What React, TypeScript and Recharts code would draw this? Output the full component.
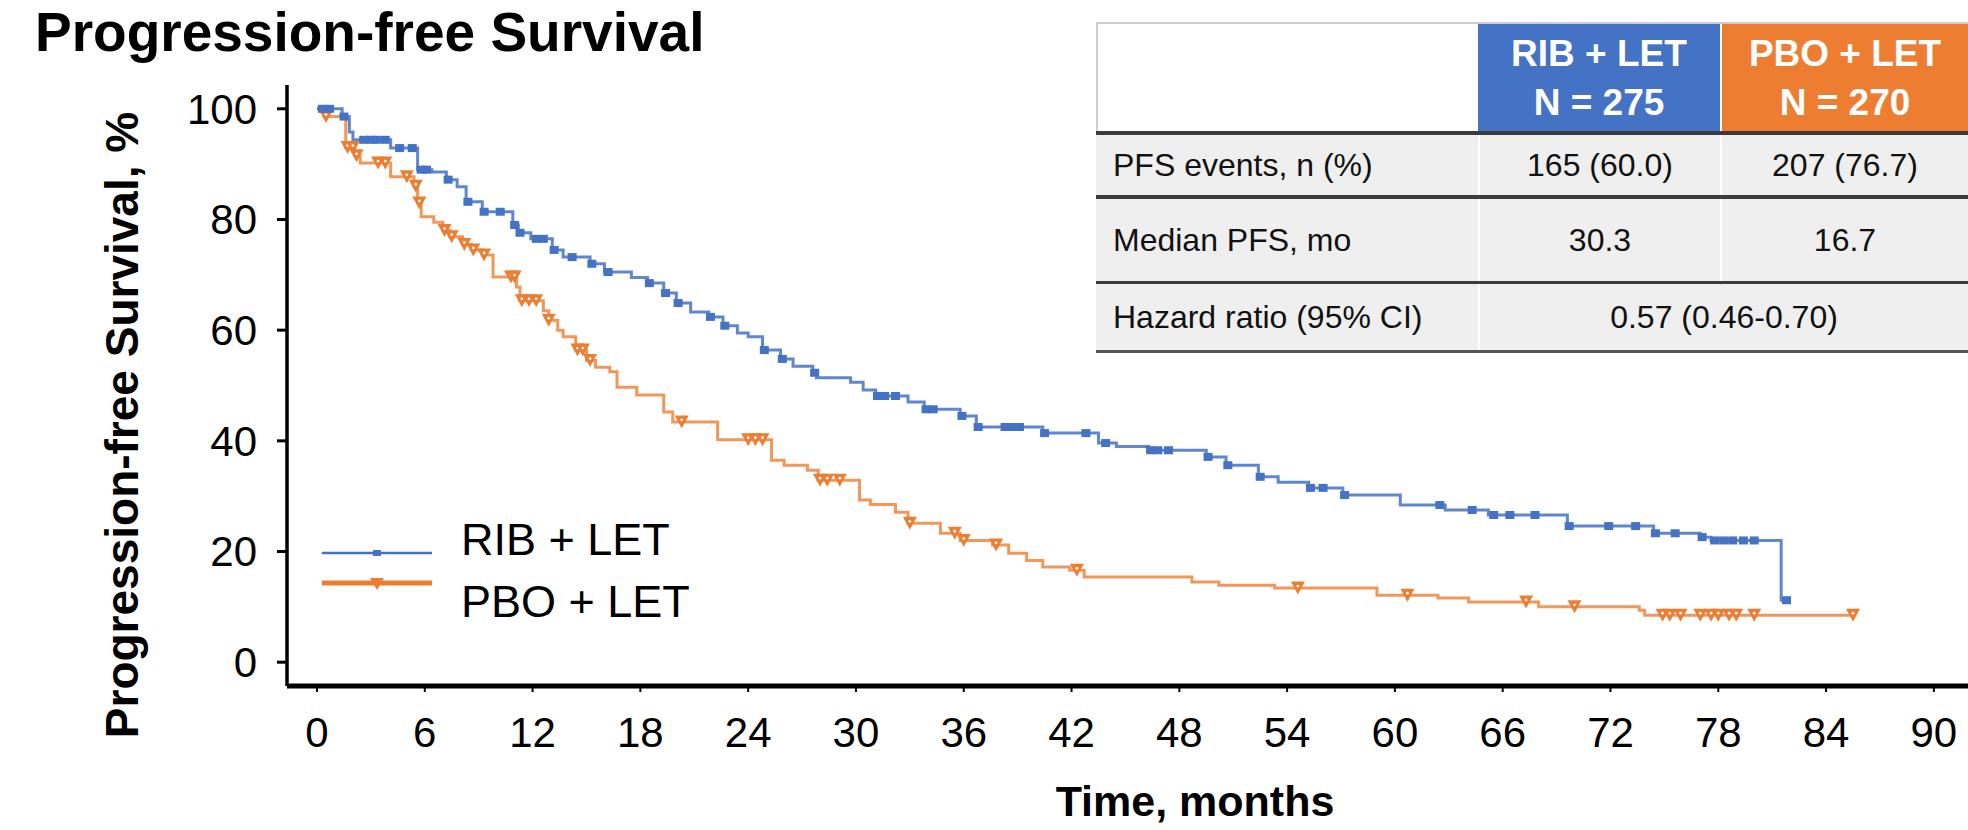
import React from 'react';
import { ComposedChart, Line, Scatter, XAxis, YAxis, Legend } from 'recharts';

const xTicks = [0, 6, 12, 18, 24, 30, 36, 42, 48, 54, 60, 66, 72, 78, 84, 90];
const yTicks = [0, 20, 40, 60, 80, 100];

// RIB + LET: Kaplan-Meier steps (months, % progression-free)
const ribTime = [
  0, 1.4, 1.8, 2.0, 4.1, 5.6, 6.4, 7.2, 7.8, 8.3, 9.2, 10.9, 11.2, 11.9, 13.1, 13.7, 15.2, 16.0, 17.5,
  18.4, 19.3, 20.0, 20.8, 21.8, 22.6, 23.4, 24.0, 24.8, 25.8, 26.5, 27.6, 27.8, 29.7, 30.4, 31.1, 32.9,
  33.8, 35.8, 36.7, 40.4, 43.5, 44.5, 46.3, 49.5, 50.6, 52.4, 53.5, 55.2, 57.1, 60.3, 62.8, 65.2, 69.6,
  74.4, 77.0, 77.6, 81.5, 81.8,
];
const ribSurv = [
  100, 98.6, 95.8, 94.4, 92.9, 89.0, 88.6, 87.2, 85.9, 83.2, 81.4, 79.0, 77.6, 76.5, 74.5, 73.2, 72.0,
  70.5, 69.5, 68.5, 66.7, 64.9, 63.3, 62.4, 60.8, 59.5, 58.8, 56.4, 54.8, 53.5, 52.3, 51.4, 50.6, 49.2,
  48.1, 47.0, 45.7, 44.5, 42.5, 41.4, 39.6, 39.0, 38.3, 37.1, 35.6, 33.5, 32.5, 31.5, 30.2, 28.4, 27.5,
  26.6, 24.6, 23.3, 22.6, 22.0, 11.2, 11.2,
];
const ribCensorTime = [
  0.3, 0.7, 1.5, 2.6, 3.0, 3.3, 3.8, 4.6, 5.3, 5.8, 6.1, 7.3, 8.4, 9.3, 10.2, 11.0, 11.3, 12.2, 12.6,
  13.2, 14.2, 15.3, 16.2, 18.5, 19.4, 20.1, 21.9, 22.7, 24.9, 25.9, 27.7, 31.2, 31.6, 32.2, 33.9, 34.3,
  35.9, 36.8, 38.3, 38.7, 39.1, 40.5, 42.8, 43.9, 46.4, 46.8, 47.4, 49.6, 50.7, 52.5, 55.3, 56.0, 57.2,
  62.5, 64.3, 65.5, 66.4, 67.8, 69.7, 71.9, 73.4, 74.5, 75.6, 77.1, 77.8, 78.3, 78.8, 79.4, 80.0, 81.8,
];
const ribCensorSurv = [
  100, 100, 98.6, 94.4, 94.4, 94.4, 94.4, 92.9, 92.9, 89.0, 89.0, 87.2, 83.2, 81.4, 81.4, 79.0, 77.6,
  76.5, 76.5, 74.5, 73.2, 72.0, 70.5, 68.5, 66.7, 64.9, 62.4, 60.8, 56.4, 54.8, 52.3, 48.1, 48.1, 48.1,
  45.7, 45.7, 44.5, 42.5, 42.5, 42.5, 42.5, 41.4, 41.4, 39.6, 38.3, 38.3, 38.3, 37.1, 35.6, 33.5, 31.5,
  31.5, 30.2, 28.4, 27.5, 26.6, 26.6, 26.6, 24.6, 24.6, 24.6, 23.3, 23.3, 22.6, 22.0, 22.0, 22.0, 22.0,
  22.0, 11.2,
];

// PBO + LET
const pboTime = [
  0, 0.4, 1.6, 2.1, 2.4, 4.1, 5.4, 5.6, 5.8, 6.5, 7.0, 7.4, 8.1, 8.6, 9.2, 9.8, 11.1, 11.3, 12.6, 12.9,
  13.4, 13.7, 14.4, 15.0, 15.5, 16.3, 16.7, 17.8, 19.3, 19.8, 22.3, 25.3, 26.0, 27.3, 27.9, 30.2, 30.8,
  32.2, 32.9, 34.7, 35.8, 37.6, 38.5, 39.5, 40.4, 41.9, 42.7, 48.7, 50.2, 53.3, 59.0, 62.4, 64.1, 68.0,
  73.6, 73.9, 85.5,
];
const pboSurv = [
  100, 98.6, 93.0, 91.5, 90.2, 87.7, 86.0, 83.0, 80.5, 79.5, 78.0, 76.9, 75.5, 74.5, 73.6, 69.6, 67.8,
  65.3, 63.5, 61.8, 60.0, 58.8, 56.4, 54.5, 53.3, 52.5, 49.7, 48.3, 45.2, 43.4, 40.2, 36.5, 35.6, 34.7,
  32.9, 29.3, 28.5, 27.1, 25.1, 23.3, 22.0, 21.2, 19.7, 18.4, 17.2, 16.6, 15.4, 14.5, 13.9, 13.4, 12.1,
  11.6, 10.9, 10.0, 9.4, 8.5, 8.5,
];
const pboCensorTime = [
  0.5, 1.7, 2.0, 2.2, 3.4, 3.8, 5.0, 5.5, 5.7, 7.1, 7.5, 8.2, 8.7, 9.3, 10.8, 11.0, 11.4, 11.8, 12.2,
  12.9, 14.5, 14.8, 15.2, 20.3, 24.0, 24.4, 24.8, 28.0, 28.4, 29.1, 33.0, 35.5, 36.0, 37.8, 42.3, 54.6,
  60.7, 67.3, 70.0, 74.9, 75.3, 75.9, 77.0, 77.6, 78.0, 78.6, 79.0, 80.0, 85.5,
];
const pboCensorSurv = [
  98.6, 93.0, 93.0, 91.5, 90.2, 90.2, 87.7, 86.0, 83.0, 78.0, 76.9, 75.5, 74.5, 73.6, 69.6, 69.6, 65.3,
  65.3, 65.3, 61.8, 56.4, 56.4, 54.5, 43.4, 40.2, 40.2, 40.2, 32.9, 32.9, 32.9, 25.1, 23.3, 22.0, 21.2,
  16.6, 13.4, 12.1, 10.9, 10.0, 8.5, 8.5, 8.5, 8.5, 8.5, 8.5, 8.5, 8.5, 8.5, 8.5,
];

const BLUE = '#4472C4';
const ORANGE = '#ED7D31';
const FONT = "'Liberation Sans', Arial, Helvetica, sans-serif";

const toPoints = (ts: number[], ss: number[]) => ts.map((t, i) => ({ t, s: ss[i] }));

const ribCurve = toPoints(ribTime, ribSurv);
const ribCensor = toPoints(ribCensorTime, ribCensorSurv);
const pboCurve = toPoints(pboTime, pboSurv);
const pboCensor = toPoints(pboCensorTime, pboCensorSurv);

const SquareMark = (props: any) => {
  const { cx, cy } = props;
  if (cx == null || cy == null) return null;
  return <rect x={cx - 4.5} y={cy - 4} width={9} height={8} fill={BLUE} />;
};

const TriangleMark = (props: any) => {
  const { cx, cy } = props;
  if (cx == null || cy == null) return null;
  return (
    <g>
      <path d={`M${cx - 7},${cy - 6.5} L${cx + 7},${cy - 6.5} L${cx},${cy + 6.5} Z`} fill={ORANGE} />
      <circle cx={cx} cy={cy - 2} r={1.4} fill="#fff" />
    </g>
  );
};

const renderLegend = () => (
  <svg width={420} height={120} style={{ display: 'block' }}>
    <line x1={22} x2={132} y1={43} y2={43} stroke={BLUE} strokeWidth={2.5} />
    <rect x={73} y={40} width={8} height={6} fill={BLUE} />
    <text x={161} y={29} dominantBaseline="central" fontSize={45} fontFamily={FONT} fill="#000">
      RIB + LET
    </text>
    <line x1={22} x2={132} y1={73} y2={73} stroke={ORANGE} strokeWidth={5} />
    <path d="M70,68 L84,68 L77,80 Z" fill={ORANGE} />
    <text x={161} y={91} dominantBaseline="central" fontSize={45} fontFamily={FONT} fill="#000">
      PBO + LET
    </text>
  </svg>
);

const cell = (extra: React.CSSProperties): React.CSSProperties => ({
  position: 'absolute',
  display: 'flex',
  alignItems: 'center',
  boxSizing: 'border-box',
  lineHeight: 1,
  whiteSpace: 'nowrap',
  ...extra,
});

const SummaryTable = () => {
  const rowBg = '#efefef';
  const heavy = '#3c3c3c';
  const txt = { fontSize: 32, color: '#111' };
  const head = { fontSize: 37, fontWeight: 700, color: '#fff', flexDirection: 'column' as const, justifyContent: 'center' };
  return (
    <div style={{ position: 'absolute', left: 0, top: 0 }}>
      <div style={cell({ left: 1096, top: 22, width: 872, height: 2, background: '#cfcfcf' })} />
      <div style={cell({ left: 1096, top: 24, width: 382, height: 107, background: '#fff', borderLeft: '2px solid #cfcfcf' })} />
      <div style={cell({ left: 1478, top: 24, width: 242, height: 107, background: BLUE, ...head })}>
        <div style={{ marginBottom: 12 }}>RIB + LET</div>
        <div>N = 275</div>
      </div>
      <div style={cell({ left: 1722, top: 24, width: 246, height: 107, background: ORANGE, ...head })}>
        <div style={{ marginBottom: 12 }}>PBO + LET</div>
        <div>N = 270</div>
      </div>
      <div style={cell({ left: 1096, top: 131, width: 872, height: 4, background: heavy })} />

      <div style={cell({ left: 1096, top: 135, width: 382, height: 60, background: rowBg, paddingLeft: 17, ...txt })}>PFS events, n (%)</div>
      <div style={cell({ left: 1480, top: 135, width: 240, height: 60, background: rowBg, justifyContent: 'center', ...txt })}>165 (60.0)</div>
      <div style={cell({ left: 1722, top: 135, width: 246, height: 60, background: rowBg, justifyContent: 'center', ...txt })}>207 (76.7)</div>
      <div style={cell({ left: 1096, top: 195, width: 872, height: 4, background: heavy })} />

      <div style={cell({ left: 1096, top: 199, width: 382, height: 82, background: rowBg, paddingLeft: 17, ...txt })}>Median PFS, mo</div>
      <div style={cell({ left: 1480, top: 199, width: 240, height: 82, background: rowBg, justifyContent: 'center', ...txt })}>30.3</div>
      <div style={cell({ left: 1722, top: 199, width: 246, height: 82, background: rowBg, justifyContent: 'center', ...txt })}>16.7</div>
      <div style={cell({ left: 1096, top: 281, width: 872, height: 3, background: heavy })} />

      <div style={cell({ left: 1096, top: 284, width: 382, height: 66, background: rowBg, paddingLeft: 17, ...txt })}>Hazard ratio (95% CI)</div>
      <div style={cell({ left: 1480, top: 284, width: 488, height: 66, background: rowBg, justifyContent: 'center', ...txt })}>0.57 (0.46-0.70)</div>
      <div style={cell({ left: 1096, top: 350, width: 872, height: 3, background: '#555' })} />
    </div>
  );
};

export default function App() {
  return (
    <div
      style={{
        position: 'absolute',
        left: 0,
        top: 0,
        width: 1968,
        height: 830,
        background: '#fff',
        fontFamily: FONT,
        overflow: 'hidden',
      }}
    >
      <ComposedChart
        width={1968}
        height={830}
        margin={{ top: 85, right: 0, bottom: 54, left: 187 }}
      >
        <XAxis
          type="number"
          dataKey="t"
          domain={[-1.67, 91.9]}
          ticks={xTicks}
          allowDataOverflow
          height={90}
          tickSize={6}
          tickMargin={25}
          axisLine={{ stroke: '#000', strokeWidth: 5 }}
          tickLine={{ stroke: '#000', strokeWidth: 2 }}
          tick={{ fontSize: 42, fill: '#000', fontFamily: FONT }}
          label={{
            content: () => (
              <text x={1195} y={801} textAnchor="middle" dominantBaseline="central" fontSize={43} fontWeight={700} fontFamily={FONT} fill="#000">
                Time, months
              </text>
            ),
          }}
        />
        <YAxis
          type="number"
          domain={[-4.3, 104.3]}
          ticks={yTicks}
          allowDataOverflow
          width={100}
          tickSize={10}
          tickMargin={20}
          axisLine={{ stroke: '#000', strokeWidth: 3.5 }}
          tickLine={{ stroke: '#000', strokeWidth: 3 }}
          tick={{ fontSize: 42, fill: '#000', fontFamily: FONT }}
          label={{
            content: () => (
              <text x={122} y={425} transform="rotate(-90 122 425)" textAnchor="middle" dominantBaseline="central" fontSize={46} fontWeight={700} fontFamily={FONT} fill="#000">
                Progression-free Survival, %
              </text>
            ),
          }}
        />
        <Legend
          layout="vertical"
          align="center"
          verticalAlign="middle"
          content={renderLegend}
          wrapperStyle={{ left: 300, top: 510, width: 420, height: 120 }}
        />
        <Line
          data={pboCurve}
          dataKey="s"
          name="PBO + LET"
          type="stepAfter"
          stroke={ORANGE}
          strokeWidth={3}
          strokeOpacity={0.8}
          dot={false}
          activeDot={false}
          isAnimationActive={false}
        />
        <Line
          data={ribCurve}
          dataKey="s"
          name="RIB + LET"
          type="stepAfter"
          stroke={BLUE}
          strokeWidth={3}
          strokeOpacity={0.85}
          dot={false}
          activeDot={false}
          isAnimationActive={false}
        />
        <Scatter data={pboCensor} dataKey="s" shape={TriangleMark} isAnimationActive={false} />
        <Scatter data={ribCensor} dataKey="s" shape={SquareMark} isAnimationActive={false} />
      </ComposedChart>

      <div
        style={{
          position: 'absolute',
          left: 35,
          top: 5,
          fontSize: 55,
          fontWeight: 700,
          lineHeight: 1,
          color: '#000',
          whiteSpace: 'nowrap',
        }}
      >
        Progression-free Survival
      </div>
      <SummaryTable />
    </div>
  );
}
